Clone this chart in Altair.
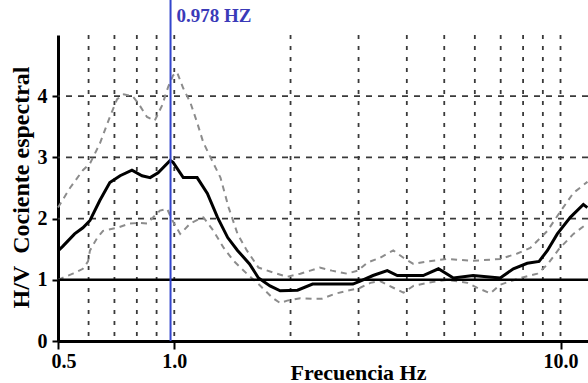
import altair as alt
import pandas as pd

# Mean H/V curve
freq_mean = [0.5, 0.515, 0.552, 0.58, 0.605, 0.642, 0.681, 0.724, 0.777, 0.825,
             0.866, 0.908, 0.976, 0.993, 1.055, 1.146, 1.218, 1.294, 1.375, 1.458,
             1.566, 1.652, 1.77, 1.88, 2.085, 2.281, 2.9, 3.03, 3.27, 3.56,
             3.78, 4.08, 4.41, 4.83, 5.28, 5.94, 6.98, 7.55, 8.2, 8.8,
             9.25, 9.81, 10.6, 11.46, 11.74]
hv_mean = [1.47, 1.55, 1.75, 1.85, 1.97, 2.3, 2.59, 2.7, 2.79, 2.7,
           2.67, 2.75, 2.95, 2.92, 2.67, 2.67, 2.41, 2.02, 1.69, 1.48,
           1.26, 1.03, 0.9, 0.82, 0.83, 0.93, 0.93, 0.98, 1.07, 1.15,
           1.07, 1.07, 1.07, 1.18, 1.03, 1.07, 1.03, 1.18, 1.27, 1.3,
           1.48, 1.75, 2.02, 2.23, 2.18]

# Upper (mean * std) curve
freq_up = [0.5, 0.537, 0.58, 0.605, 0.642, 0.681, 0.711, 0.74, 0.78, 0.806,
           0.85, 0.89, 0.93, 0.964, 0.993, 1.017, 1.055, 1.1, 1.146, 1.188,
           1.241, 1.317, 1.383, 1.458, 1.541, 1.652, 1.8, 1.96, 2.12, 2.25,
           2.38, 2.56, 2.8, 2.99, 3.16, 3.41, 3.69, 3.92, 4.16, 4.52,
           5.09, 5.94, 6.98, 7.73, 8.35, 9.25, 10.0, 10.8, 11.74]
hv_up = [2.18, 2.5, 2.79, 2.9, 3.23, 3.66, 3.95, 4.03, 4.0, 3.89,
         3.66, 3.6, 3.85, 4.15, 4.34, 4.39, 4.13, 3.9, 3.57, 3.25,
         3.0, 2.67, 2.18, 1.75, 1.48, 1.2, 1.12, 1.05, 1.1, 1.15,
         1.2, 1.15, 1.1, 1.15, 1.28, 1.36, 1.48, 1.36, 1.26, 1.3,
         1.34, 1.31, 1.34, 1.43, 1.52, 1.8, 2.12, 2.42, 2.6]

# Lower (mean / std) curve
freq_lo = [0.5, 0.546, 0.58, 0.598, 0.605, 0.631, 0.654, 0.711, 0.768, 0.815,
           0.85, 0.881, 0.918, 0.958, 0.993, 1.036, 1.1, 1.167, 1.19, 1.263,
           1.343, 1.424, 1.541, 1.652, 1.8, 1.88, 1.96, 2.12, 2.28, 2.41,
           2.6, 2.8, 3.03, 3.22, 3.41, 3.69, 3.92, 4.16, 4.52, 5.09,
           5.74, 6.13, 6.58, 6.98, 7.87, 8.71, 9.25, 9.9, 10.8, 11.74]
hv_lo = [1.0, 1.1, 1.18, 1.3, 1.48, 1.68, 1.8, 1.85, 1.92, 1.93,
         1.92, 2.02, 2.13, 2.16, 1.95, 1.75, 1.92, 2.0, 2.02, 1.8,
         1.52, 1.31, 1.1, 0.93, 0.7, 0.62, 0.66, 0.7, 0.69, 0.69,
         0.77, 0.82, 0.87, 0.95, 0.98, 0.87, 0.79, 0.9, 0.95, 1.0,
         0.95, 0.86, 0.78, 0.92, 1.03, 1.1, 1.25, 1.5, 1.75, 1.92]

grid_x = [0.6, 0.7, 0.8, 0.9, 1.0, 2, 3, 4, 5, 6, 7, 8, 9, 10]
grid_y = [2, 3, 4]
x_tick_values = [0.5, 1.0, 10.0]
y_tick_values = [0, 1, 2, 3, 4]
peak_freq = 0.978
peak_label = "0.978 HZ"
ref_level = 1

FONT = "Liberation Serif"

xscale = alt.Scale(type="log", domain=[0.5, 11.78], nice=False, zero=False)
yscale = alt.Scale(domain=[0, 5], nice=False, zero=False)

df_mean = pd.DataFrame({"f": freq_mean, "v": hv_mean})
df_up = pd.DataFrame({"f": freq_up, "v": hv_up})
df_lo = pd.DataFrame({"f": freq_lo, "v": hv_lo})

vgrid = alt.Chart(pd.DataFrame({"f": grid_x})).mark_rule(
    color="#3a3a3a", strokeWidth=1.8, strokeDash=[4, 7]
).encode(x=alt.X("f:Q", scale=xscale))

hgrid = alt.Chart(pd.DataFrame({"v": grid_y})).mark_rule(
    color="#3a3a3a", strokeWidth=1.7, strokeDash=[6, 6]
).encode(y=alt.Y("v:Q", scale=yscale))

one_line = alt.Chart(pd.DataFrame({"v": [ref_level]})).mark_rule(
    color="black", strokeWidth=2.5
).encode(y=alt.Y("v:Q", scale=yscale))

def dashed(df):
    return alt.Chart(df).mark_line(
        color="#8c8c8c", strokeWidth=2, strokeDash=[6, 5]
    ).encode(x=alt.X("f:Q", scale=xscale), y=alt.Y("v:Q", scale=yscale), order="f:Q")

upper = dashed(df_up)
lower = dashed(df_lo)

main = alt.Chart(df_mean).mark_line(color="black", strokeWidth=3).encode(
    x=alt.X(
        "f:Q",
        scale=xscale,
        axis=alt.Axis(
            values=x_tick_values,
            format=".1f",
            grid=False,
            title="Frecuencia Hz",
            titleFont=FONT,
            titleFontSize=22,
            titleFontWeight="bold",
            titleColor="black",
            titleX=300,
            titleY=38,
            titleAlign="center",
            titleBaseline="alphabetic",
            labelFont=FONT,
            labelFontSize=20,
            labelFontWeight="bold",
            labelColor="black",
            labelPadding=2,
            labelFlushOffset=7,
            tickSize=8,
            tickWidth=2,
            tickColor="black",
            domainColor="black",
            domainWidth=3,
        ),
    ),
    y=alt.Y(
        "v:Q",
        scale=yscale,
        axis=alt.Axis(
            values=y_tick_values,
            format="d",
            grid=False,
            title="H/V\u00a0 Cociente espectral",
            titleFont=FONT,
            titleFontSize=24,
            titleFontWeight="bold",
            titleColor="black",
            titleAngle=270,
            titleX=-30,
            titleY=152,
            titleAlign="center",
            titleBaseline="alphabetic",
            labelFont=FONT,
            labelFontSize=20,
            labelFontWeight="bold",
            labelColor="black",
            labelPadding=5,
            tickSize=6,
            tickWidth=2,
            tickColor="black",
            domainColor="black",
            domainWidth=3,
        ),
    ),
    order="f:Q",
)

peak_df = pd.DataFrame({"f": [peak_freq], "label": [peak_label]})
peak_rule = alt.Chart(peak_df).mark_rule(color="#3346cc", strokeWidth=2).encode(
    x=alt.X("f:Q", scale=xscale),
    y=alt.value(-35),
    y2=alt.value(306),
)
peak_text = alt.Chart(peak_df).mark_text(
    align="left", baseline="middle", dx=6, font=FONT, fontSize=19,
    fontWeight="bold", color="#3a3ab8"
).encode(x=alt.X("f:Q", scale=xscale), y=alt.value(-19), text="label:N")

chart = alt.layer(
    vgrid, hgrid, upper, lower, one_line, main, peak_rule, peak_text
).properties(
    width=530,
    height=306,
    padding={"left": 58, "top": 35, "right": 0, "bottom": 42},
    autosize=alt.AutoSizeParams(type="none"),
    background="white",
).configure_view(stroke=None)

chart.save("out.html", embed_options={"renderer": "svg", "actions": False})
